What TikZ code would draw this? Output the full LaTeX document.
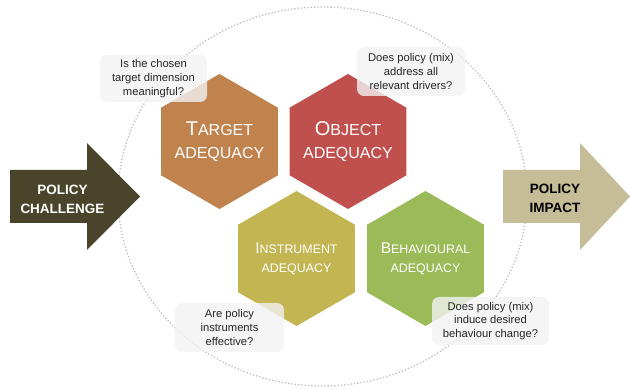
\documentclass[tikz,border=0pt]{standalone}
\usepackage{fontspec}
\setmainfont{Liberation Sans}
\usetikzlibrary{shapes.geometric}
\definecolor{cTarget}{HTML}{C0834E}
\definecolor{cObject}{HTML}{C0504D}
\definecolor{cInstr}{HTML}{C2B552}
\definecolor{cBehav}{HTML}{9BBB59}
\definecolor{cLeft}{HTML}{4A452A}
\definecolor{cRight}{HTML}{C4BD97}
\definecolor{cCall}{HTML}{F2F2F2}
\definecolor{cRing}{HTML}{BDBDBD}
\newcommand{\scbig}[3]{{\fontsize{#3}{#3}\selectfont #1}#2}
\newcommand{\hexfill}[2]{\fill[#2] (#1) ++(0,-67.5) -- ++(58.46,33.75) -- ++(0,67.5) -- ++(-58.46,33.75) -- ++(-58.46,-33.75) -- ++(0,-67.5) -- cycle;}
\tikzset{
  hexlabel/.style={text=white, align=center, inner sep=0pt},
  hexbig/.style={hexlabel, font=\fontsize{16}{22.5}\selectfont},
  hexsmall/.style={hexlabel, font=\fontsize{12.4}{19}\selectfont},
  callout/.style={rectangle, rounded corners=7pt, fill=cCall, fill opacity=0.8,
    text opacity=1, text=black!85, align=center, inner sep=0pt,
    font=\fontsize{11.2}{13.8}\selectfont},
  arrowtext/.style={font=\bfseries\fontsize{13.5}{19}\selectfont, align=center}
}
\begin{document}
\begin{tikzpicture}[x=1pt,y=-1pt]
\useasboundingbox (0,0) rectangle (630,390);
% ring
\node[ellipse, draw=cRing, dotted, line width=1.3pt, minimum width=409pt, minimum height=379pt, inner sep=0pt] (ring) at (322.5,196.5) {};
% arrows
\fill[cLeft] (10,170) -- (87,170) -- (87,143) -- (140,196.5) -- (87,250) -- (87,223) -- (10,223) -- cycle;
\node[arrowtext, text=white] (chal) at (62.5,199) {POLICY\\CHALLENGE};
\fill[cRight] (503,170) -- (580,170) -- (580,143) -- (630,196.5) -- (580,250) -- (580,223) -- (503,223) -- cycle;
\node[arrowtext, text=black] (impact) at (555,198) {POLICY\\IMPACT};
% hexagons
\coordinate (ct) at (219.5,141.5);
\coordinate (co) at (348,141.5);
\coordinate (ci) at (296.5,258.5);
\coordinate (cb) at (425.5,258.5);
\hexfill{ct}{cTarget}
\hexfill{co}{cObject}
\hexfill{ci}{cInstr}
\hexfill{cb}{cBehav}
\node[hexbig] (target) at (ct) {\scbig{T}{ARGET}{20}\\ADEQUACY};
\node[hexbig] (object) at (co) {\scbig{O}{BJECT}{20}\\ADEQUACY};
\node[hexsmall] (instr) at (ci) {\scbig{I}{NSTRUMENT}{15.5}\\ADEQUACY};
\node[hexsmall] (behav) at (cb) {\scbig{B}{EHAVIOURAL}{15.5}\\ADEQUACY};
% callouts
\node[callout, minimum width=107pt, minimum height=47pt] (qt) at (153.5,78.5) {Is the chosen\\target dimension\\meaningful?};
\node[callout, minimum width=108pt, minimum height=49pt] (qo) at (411,71.5) {Does policy (mix)\\address all\\relevant drivers?};
\node[callout, minimum width=109pt, minimum height=49pt] (qi) at (229.5,327.5) {Are policy\\instruments\\effective?};
\node[callout, minimum width=117pt, minimum height=48pt] (qb) at (490.5,321) {Does policy (mix)\\induce desired\\behaviour change?};
\end{tikzpicture}
\end{document}
